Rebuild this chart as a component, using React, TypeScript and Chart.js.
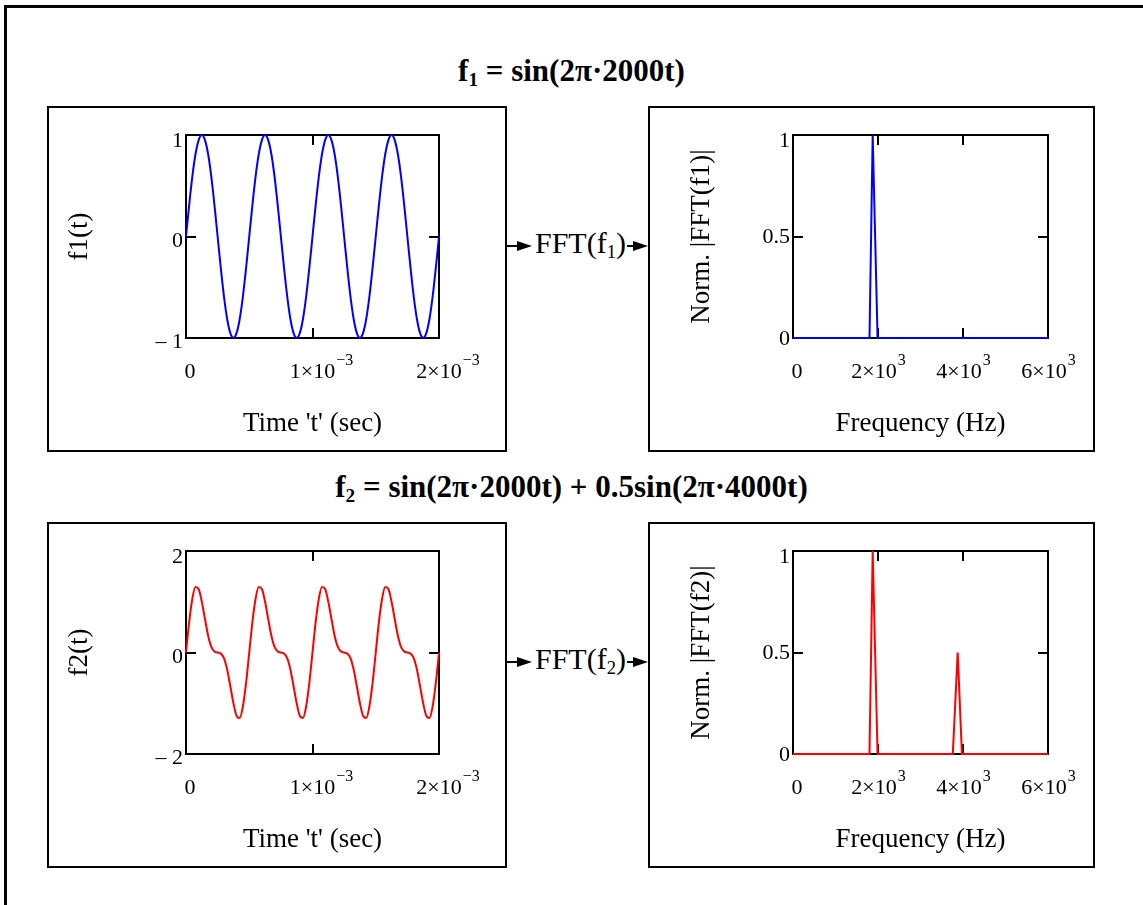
import React, { useEffect, useRef } from "react";
import { Chart, registerables } from "chart.js";

Chart.register(...registerables);

const SERIF = '"Liberation Serif", "Times New Roman", Times, serif';

// ---------------- data ----------------
const SAMPLE_INTERVAL = 2.5e-5; // seconds between samples

const f1Samples = [
  0, 0.31, 0.59, 0.81, 0.95, 1, 0.95, 0.81, 0.59, 0.31, 0, -0.31, -0.59, -0.81, -0.95, -1, -0.95, -0.81, -0.59, -0.31,
  0, 0.31, 0.59, 0.81, 0.95, 1, 0.95, 0.81, 0.59, 0.31, 0, -0.31, -0.59, -0.81, -0.95, -1, -0.95, -0.81, -0.59, -0.31,
  0, 0.31, 0.59, 0.81, 0.95, 1, 0.95, 0.81, 0.59, 0.31, 0, -0.31, -0.59, -0.81, -0.95, -1, -0.95, -0.81, -0.59, -0.31,
  0, 0.31, 0.59, 0.81, 0.95, 1, 0.95, 0.81, 0.59, 0.31, 0, -0.31, -0.59, -0.81, -0.95, -1, -0.95, -0.81, -0.59, -0.31,
  0, 0.31,
];

const f2Samples = [
  0, 0.6, 1.06, 1.29, 1.25, 1, 0.66, 0.33, 0.11, 0.02, 0, -0.02, -0.11, -0.33, -0.66, -1, -1.25, -1.29, -1.06, -0.6,
  0, 0.6, 1.06, 1.29, 1.25, 1, 0.66, 0.33, 0.11, 0.02, 0, -0.02, -0.11, -0.33, -0.66, -1, -1.25, -1.29, -1.06, -0.6,
  0, 0.6, 1.06, 1.29, 1.25, 1, 0.66, 0.33, 0.11, 0.02, 0, -0.02, -0.11, -0.33, -0.66, -1, -1.25, -1.29, -1.06, -0.6,
  0, 0.6, 1.06, 1.29, 1.25, 1, 0.66, 0.33, 0.11, 0.02, 0, -0.02, -0.11, -0.33, -0.66, -1, -1.25, -1.29, -1.06, -0.6,
  0, 0.6,
];

const fft1Freq = [0, 1800, 1875, 1990, 6000];
const fft1Mag = [0, 0, 1, 0, 0];

const fft2Freq = [0, 1800, 1875, 1990, 3760, 3875, 3975, 6000];
const fft2Mag = [0, 0, 1, 0, 0, 0.5, 0, 0];

const timeTickValues = [0, 0.001, 0.002];
const timeTickLabels: [string, string][] = [["0", ""], ["1×10", "−3"], ["2×10", "−3"]];
const freqTickValues = [0, 2000, 4000, 6000];
const freqTickLabels: [string, string][] = [["0", ""], ["2×10", "3"], ["4×10", "3"], ["6×10", "3"]];

const f1YTickValues = [-1, 0, 1];
const f1YTickLabels = ["– 1", "0", "1"];
const f2YTickValues = [-2, 0, 2];
const f2YTickLabels = ["– 2", "0", "2"];
const fftYTickValues = [0, 0.5, 1];
const fftYTickLabels = ["0", "0.5", "1"];

// ---------------- plugin: Mathcad-like frame, inner ticks, labels ----------------
const mathcadFrame = {
  id: "mcFrame",
  beforeDatasetsDraw(chart: any, _args: any, o: any) {
    const { ctx, chartArea: a, scales } = chart;
    const xs = scales.x;
    const ys = scales.y;
    ctx.save();
    ctx.strokeStyle = "#000";
    ctx.lineWidth = 2;
    ctx.strokeRect(a.left, a.top, a.right - a.left, a.bottom - a.top);
    const tl = 10;
    ctx.beginPath();
    o.xTicks.forEach((v: number) => {
      if (v <= xs.min || v >= xs.max) return;
      const px = Math.round(xs.getPixelForValue(v));
      ctx.moveTo(px, a.bottom);
      ctx.lineTo(px, a.bottom - tl);
      ctx.moveTo(px, a.top);
      ctx.lineTo(px, a.top + tl);
    });
    o.yTicks.forEach((v: number) => {
      if (v <= ys.min || v >= ys.max) return;
      const py = Math.round(ys.getPixelForValue(v));
      ctx.moveTo(a.left, py);
      ctx.lineTo(a.left + tl, py);
      ctx.moveTo(a.right, py);
      ctx.lineTo(a.right - tl, py);
    });
    ctx.stroke();

    ctx.fillStyle = "#000";
    // y tick labels
    ctx.font = `${o.tickSize}px ${SERIF}`;
    ctx.textAlign = "right";
    ctx.textBaseline = "middle";
    o.yTicks.forEach((v: number, i: number) => {
      const py = ys.getPixelForValue(v) + o.yLabelDy[i];
      ctx.fillText(o.yLabels[i], a.left - 3, py);
    });

    // x tick labels with superscript exponents
    ctx.textAlign = "left";
    ctx.textBaseline = "alphabetic";
    const baseY = a.bottom + o.xLabelBaseline;
    o.xTicks.forEach((v: number, i: number) => {
      const [base, sup] = o.xLabels[i];
      ctx.font = `${o.tickSize}px ${SERIF}`;
      const wb = ctx.measureText(base).width;
      ctx.font = `${o.supSize}px ${SERIF}`;
      const ws = sup ? ctx.measureText(sup).width : 0;
      const px = xs.getPixelForValue(v);
      let x0 = o.centerWhole ? px - (wb + ws) / 2 : px - wb / 2;
      if (i === 0) x0 += o.firstShift;
      ctx.font = `${o.tickSize}px ${SERIF}`;
      ctx.fillText(base, x0, baseY);
      if (sup) {
        ctx.font = `${o.supSize}px ${SERIF}`;
        ctx.fillText(sup, x0 + wb + 1, baseY - o.supRaise);
      }
    });
    ctx.restore();
  },
};

// ---------------- plot component ----------------
interface PlotProps {
  box: { left: number; top: number; width: number; height: number };
  area: { left: number; top: number; right: number; bottom: number };
  xs: number[];
  ys: number[];
  color: string;
  smooth: boolean;
  xMin: number;
  xMax: number;
  yMin: number;
  yMax: number;
  xTicks: number[];
  xLabels: [string, string][];
  centerWhole: boolean;
  yTicks: number[];
  yLabels: string[];
  yLabelDy: number[];
  xTitle: string;
  yTitle: string;
  yTitleX: number;
  xTitleY: number;
}

const BORDER = 2;
const TITLE_SIZE = 27;
const TITLE_LH = TITLE_SIZE * 1.2;

function Plot(p: PlotProps) {
  const ref = useRef<HTMLCanvasElement | null>(null);
  const innerW = p.box.width - 2 * BORDER;
  const innerH = p.box.height - 2 * BORDER;
  const ox = p.box.left + BORDER;
  const oy = p.box.top + BORDER;

  useEffect(() => {
    if (!ref.current) return;
    const yAxisWidth = p.area.left - ox;
    const xAxisHeight = innerH - (p.area.bottom - oy);
    const chart = new Chart(ref.current, {
      type: "line",
      data: {
        datasets: [
          {
            data: p.xs.map((x, i) => ({ x, y: p.ys[i] })),
            borderColor: p.color,
            backgroundColor: p.color,
            borderWidth: 2,
            pointRadius: 0,
            tension: 0,
            cubicInterpolationMode: p.smooth ? "monotone" : "default",
            fill: false,
            clip: { left: 2, right: 1, top: 2, bottom: 2 },
          },
        ],
      },
      options: {
        animation: false,
        responsive: false,
        maintainAspectRatio: false,
        events: [],
        layout: {
          padding: {
            left: 0,
            top: p.area.top - oy,
            right: innerW - (p.area.right - ox),
            bottom: 0,
          },
        },
        plugins: {
          legend: { display: false },
          tooltip: { enabled: false },
          title: { display: false },
          mcFrame: {
            xTicks: p.xTicks,
            xLabels: p.xLabels,
            yTicks: p.yTicks,
            yLabels: p.yLabels,
            yLabelDy: p.yLabelDy,
            tickSize: 22,
            supSize: 16,
            supRaise: 13,
            xLabelBaseline: 40,
            centerWhole: p.centerWhole,
            firstShift: 4,
          },
        } as any,
        scales: {
          x: {
            type: "linear",
            min: p.xMin,
            max: p.xMax,
            ticks: { display: false },
            grid: { display: false, drawTicks: false },
            border: { display: false },
            title: {
              display: true,
              text: p.xTitle,
              color: "#000",
              font: { family: SERIF, size: TITLE_SIZE, lineHeight: 1.2 },
              padding: { top: 0, bottom: innerH - TITLE_LH / 2 - (p.xTitleY - oy) },
            },
            afterFit: (s: any) => {
              s.height = xAxisHeight;
            },
          },
          y: {
            type: "linear",
            min: p.yMin,
            max: p.yMax,
            ticks: { display: false },
            grid: { display: false, drawTicks: false },
            border: { display: false },
            title: {
              display: true,
              text: p.yTitle,
              color: "#000",
              font: { family: SERIF, size: TITLE_SIZE, lineHeight: 1.2 },
              padding: { top: p.yTitleX - ox - TITLE_LH / 2, bottom: 0 },
            },
            afterFit: (s: any) => {
              s.width = yAxisWidth;
            },
          },
        },
      } as any,
      plugins: [mathcadFrame],
    });
    return () => chart.destroy();
  }, []);

  return (
    <div
      style={{
        position: "absolute",
        left: p.box.left,
        top: p.box.top,
        width: innerW,
        height: innerH,
        border: `${BORDER}px solid #000`,
        background: "#fff",
      }}
    >
      <canvas ref={ref} width={innerW} height={innerH} style={{ display: "block", width: innerW, height: innerH }} />
    </div>
  );
}

function Arrow({ x1, x2, y }: { x1: number; x2: number; y: number }) {
  const head = 15;
  return (
    <>
      <div style={{ position: "absolute", left: x1, top: y - 1, width: x2 - x1 - head + 2, height: 2, background: "#000" }} />
      <div
        style={{
          position: "absolute",
          left: x2 - head,
          top: y - 5,
          width: 0,
          height: 0,
          borderTop: "5px solid transparent",
          borderBottom: "5px solid transparent",
          borderLeft: `${head}px solid #000`,
        }}
      />
    </>
  );
}

const subStyle: React.CSSProperties = { fontSize: "0.62em", position: "relative", top: "0.28em" };

function FftLabel({ n, y }: { n: string; y: number }) {
  return (
    <>
      <Arrow x1={505} x2={532} y={y} />
      <div
        style={{
          position: "absolute",
          left: 535,
          top: y - 18,
          fontFamily: SERIF,
          fontSize: 30,
          lineHeight: "30px",
          whiteSpace: "nowrap",
          color: "#000",
        }}
      >
        FFT(f<span style={subStyle}>{n}</span>)
      </div>
      <Arrow x1={627} x2={648} y={y} />
    </>
  );
}

const timeX1 = f1Samples.map((_, i) => i * SAMPLE_INTERVAL);
const timeX2 = f2Samples.map((_, i) => i * SAMPLE_INTERVAL);

export default function App() {
  const titleStyle: React.CSSProperties = {
    position: "absolute",
    left: 0,
    width: 1143,
    textAlign: "center",
    fontFamily: SERIF,
    fontWeight: "bold",
    fontSize: 31,
    lineHeight: "31px",
    whiteSpace: "nowrap",
    color: "#000",
  };
  return (
    <div style={{ position: "fixed", left: 0, top: 0, width: 1143, height: 905, overflow: "hidden", background: "#fff" }}>
      <div
        style={{
          position: "absolute",
          left: 4,
          top: 5,
          width: 2000,
          height: 2000,
          borderLeft: "3px solid #000",
          borderTop: "3px solid #000",
        }}
      />
      <div style={{ ...titleStyle, top: 55 }}>
        f<span style={subStyle}>1</span> = sin(2π·2000t)
      </div>
      <div style={{ ...titleStyle, top: 471 }}>
        f<span style={subStyle}>2</span> = sin(2π·2000t) + 0.5sin(2π·4000t)
      </div>

      <Plot
        box={{ left: 47, top: 106, width: 460, height: 346 }}
        area={{ left: 186, top: 135, right: 439, bottom: 338 }}
        xs={timeX1}
        ys={f1Samples}
        color="#0000ff"
        smooth={true}
        xMin={0}
        xMax={0.002}
        yMin={-1}
        yMax={1}
        xTicks={timeTickValues}
        xLabels={timeTickLabels}
        centerWhole={false}
        yTicks={f1YTickValues}
        yLabels={f1YTickLabels}
        yLabelDy={[4, 5, 6]}
        xTitle="Time 't' (sec)"
        yTitle="f1(t)"
        yTitleX={80}
        xTitleY={424}
      />
      <FftLabel n="1" y={246} />
      <Plot
        box={{ left: 648, top: 106, width: 447, height: 346 }}
        area={{ left: 793, top: 135, right: 1048, bottom: 338 }}
        xs={fft1Freq}
        ys={fft1Mag}
        color="#0000ff"
        smooth={false}
        xMin={0}
        xMax={6000}
        yMin={0}
        yMax={1}
        xTicks={freqTickValues}
        xLabels={freqTickLabels}
        centerWhole={true}
        yTicks={fftYTickValues}
        yLabels={fftYTickLabels}
        yLabelDy={[1, 1, 6]}
        xTitle="Frequency (Hz)"
        yTitle="Norm. |FFT(f1)|"
        yTitleX={702}
        xTitleY={424}
      />

      <Plot
        box={{ left: 47, top: 522, width: 460, height: 346 }}
        area={{ left: 186, top: 551, right: 439, bottom: 754 }}
        xs={timeX2}
        ys={f2Samples}
        color="#ff0000"
        smooth={true}
        xMin={0}
        xMax={0.002}
        yMin={-2}
        yMax={2}
        xTicks={timeTickValues}
        xLabels={timeTickLabels}
        centerWhole={false}
        yTicks={f2YTickValues}
        yLabels={f2YTickLabels}
        yLabelDy={[4, 5, 6]}
        xTitle="Time 't' (sec)"
        yTitle="f2(t)"
        yTitleX={80}
        xTitleY={840}
      />
      <FftLabel n="2" y={662} />
      <Plot
        box={{ left: 648, top: 522, width: 447, height: 346 }}
        area={{ left: 793, top: 551, right: 1048, bottom: 754 }}
        xs={fft2Freq}
        ys={fft2Mag}
        color="#ff0000"
        smooth={false}
        xMin={0}
        xMax={6000}
        yMin={0}
        yMax={1}
        xTicks={freqTickValues}
        xLabels={freqTickLabels}
        centerWhole={true}
        yTicks={fftYTickValues}
        yLabels={fftYTickLabels}
        yLabelDy={[1, 1, 6]}
        xTitle="Frequency (Hz)"
        yTitle="Norm. |FFT(f2)|"
        yTitleX={702}
        xTitleY={840}
      />
    </div>
  );
}
